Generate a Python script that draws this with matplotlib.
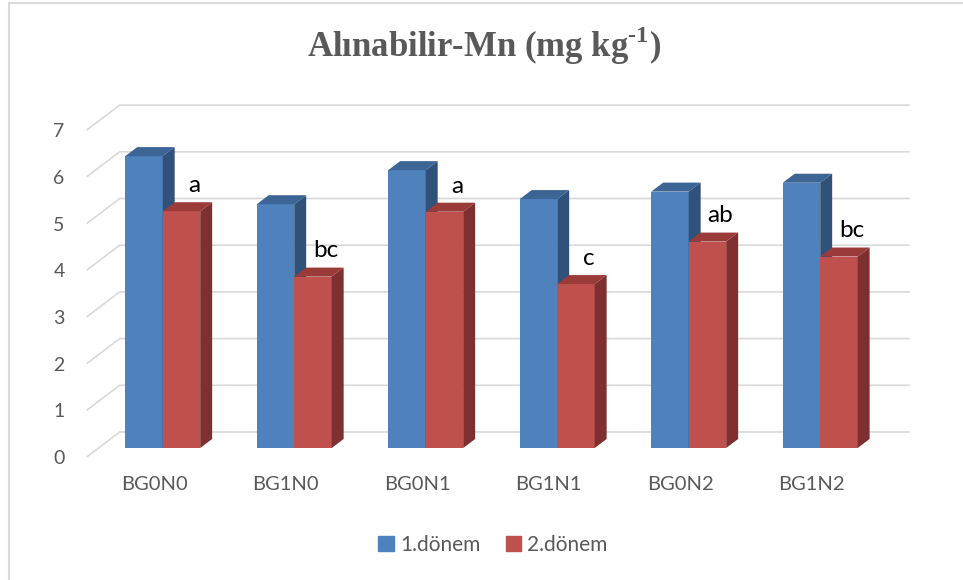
import matplotlib
matplotlib.use("Agg")
import matplotlib.pyplot as plt
from matplotlib.patches import Polygon, Rectangle, Patch
import numpy as np

plt.rcParams['font.family'] = ['Lato', 'DejaVu Sans']
plt.rcParams['mathtext.fontset'] = 'custom'
plt.rcParams['mathtext.rm'] = 'Liberation Serif:bold'
plt.rcParams['mathtext.bf'] = 'Liberation Serif:bold'

# data
categories = ['BG0N0', 'BG1N0', 'BG0N1', 'BG1N1', 'BG0N2', 'BG1N2']
donem1 = [6.25, 5.22, 5.95, 5.33, 5.49, 5.68]
donem2 = [5.07, 3.67, 5.06, 3.51, 4.42, 4.10]
letters = ['a', 'bc', 'a', 'c', 'ab', 'bc']
series_names = ['1.dönem', '2.dönem']
yticks = [0, 1, 2, 3, 4, 5, 6, 7]

# colours (front, top, side)
blue = ('#4F81BD', '#3C6494', '#30527A')
red = ('#C0504D', '#9A3B39', '#7D302F')
grid_c = '#D9D9D9'
text_c = '#595959'

# 3d look, in data units
W = 0.285      # bar width
DX = 0.091     # depth shift x
DY = 0.193     # depth shift y
WALL_DX, WALL_DY = 0.160, 0.343
FRONT_DX, FRONT_DY = -0.091, -0.193

fig = plt.figure(figsize=(9.63, 5.8), dpi=100)
ax = fig.add_axes([80/963, 1-470/580, 840/963, 385/580])
ax.set_xlim(-0.629, 5.759)
ax.set_ylim(-0.471, 7.773)
for s in ax.spines.values():
    s.set_visible(False)

x = np.arange(len(categories))
x_left = -0.578
x_right = 5.681

# gridlines: diagonal on the side, flat along the back wall
for v in yticks:
    ax.plot([x_left, x_left + (WALL_DX - FRONT_DX), x_right],
            [v + FRONT_DY, v + WALL_DY, v + WALL_DY],
            color=grid_c, lw=1.2, zorder=1, solid_capstyle='butt')


def bar3d(x0, v, cols):
    ax.bar(x0 + W/2, v, W, color=cols[0], zorder=3)
    top = [(x0, v), (x0 + W, v), (x0 + W + DX, v + DY), (x0 + DX, v + DY)]
    side = [(x0 + W, 0), (x0 + W + DX, DY), (x0 + W + DX, v + DY), (x0 + W, v)]
    ax.add_patch(Polygon(top, closed=True, color=cols[1], zorder=3, lw=0))
    ax.add_patch(Polygon(side, closed=True, color=cols[2], zorder=3, lw=0))


for i in range(len(categories)):
    bar3d(x[i] - W, donem1[i], blue)
    bar3d(x[i], donem2[i], red)
    ax.text(x[i] + W/2 + 0.1, donem2[i] + 0.41, letters[i], ha='center',
            va='baseline', fontsize=17.5, color='black', zorder=4)

ax.set_yticks([v + FRONT_DY for v in yticks])
ax.set_yticklabels([str(v) for v in yticks])
ax.set_xticks(x - 0.066)
ax.set_xticklabels(categories)
ax.tick_params(axis='y', length=0, pad=11, labelsize=14, labelcolor=text_c)
ax.tick_params(axis='x', length=0, pad=4, labelsize=14.5, labelcolor=text_c)

fig.text(484/963, 1 - 57/580, r'Alınabilir-Mn (mg kg$^{\text{-1}}$)', ha='center',
         va='baseline', fontsize=25, color=text_c, family='Liberation Serif',
         weight='bold')

handles = [Patch(color=blue[0]), Patch(color=red[0])]
fig.legend(handles, series_names, loc='center', bbox_to_anchor=(493/963, 1 - 545/580),
           ncol=2, frameon=False, fontsize=15, labelcolor=text_c,
           handlelength=0.75, handleheight=0.75, handletextpad=0.3, columnspacing=1.2)

fig.patches.append(Rectangle((9/963, -0.1), 1.2, 1.1 - 3/580, transform=fig.transFigure,
                             fill=False, edgecolor=grid_c, lw=1.5))

fig.savefig('out.png', dpi=100)
